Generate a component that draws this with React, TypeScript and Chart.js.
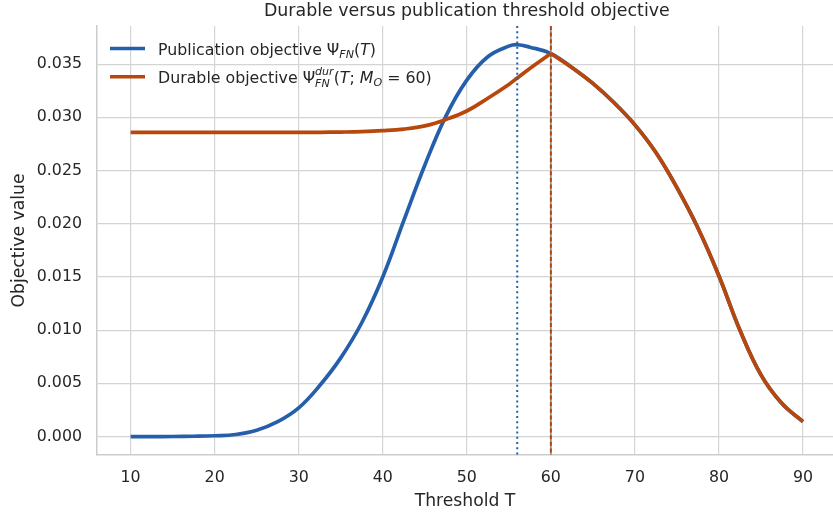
import React, { useEffect, useRef } from "react";
import { Chart, registerables } from "chart.js";

Chart.register(...registerables);

// ---- data ----
const thresholds = [
  10, 12.5, 15, 17.5, 20, 22.5, 25, 27.5, 30, 32.5, 35, 37.5, 40, 42.5, 45, 47.5, 50, 52.5, 55, 56, 57.5, 60,
  62.5, 65, 67.5, 70, 72.5, 75, 77.5, 80, 82.5, 85, 87.5, 90,
];
const publicationObjective = [
  0.0, 0.0, 0.00001, 0.00003, 0.00008, 0.0002, 0.0006, 0.0014, 0.0027, 0.0048, 0.0074, 0.0107, 0.015, 0.0203,
  0.0255, 0.0301, 0.0335, 0.0357, 0.0367, 0.03683, 0.0366, 0.036, 0.0347, 0.0332, 0.0314, 0.0293, 0.0267, 0.0234,
  0.0196, 0.0151, 0.01, 0.0058, 0.0031, 0.0014,
];
const durableObjective = [
  0.0286, 0.0286, 0.0286, 0.0286, 0.0286, 0.0286, 0.0286, 0.0286, 0.0286, 0.0286, 0.02862, 0.02866, 0.02875,
  0.0289, 0.0292, 0.0298, 0.0306, 0.0318, 0.0331, 0.0337, 0.0346, 0.036, 0.0347, 0.0332, 0.0314, 0.0293, 0.0267,
  0.0234, 0.0196, 0.0151, 0.01, 0.0058, 0.0031, 0.0014,
];
const publicationOptimum = 56;
const durableOptimum = 60; // M_O
const xTicks = [10, 20, 30, 40, 50, 60, 70, 80, 90];
const yTicks = [0, 0.005, 0.01, 0.015, 0.02, 0.025, 0.03, 0.035];
const titleText = "Durable versus publication threshold objective";
const xTitle = "Threshold T";
const yTitle = "Objective value";

// ---- styles ----
const BLUE = "#255fab";
const ORANGE = "#b8470b";
const TEXT = "#262626";
const GRID = "#d4d4d4";
const FONT = "'DejaVu Sans', 'Liberation Sans', sans-serif";

type Seg = { t: string; it?: boolean; sub?: boolean; sup?: string };

const legendRows: { color: string; segs: Seg[] }[] = [
  {
    color: BLUE,
    segs: [{ t: "Publication objective Ψ" }, { t: "FN", it: true, sub: true }, { t: "(" }, { t: "T", it: true }, { t: ")" }],
  },
  {
    color: ORANGE,
    segs: [
      { t: "Durable objective Ψ" },
      { t: "FN", it: true, sub: true, sup: "dur" },
      { t: "(" },
      { t: "T", it: true },
      { t: "; " },
      { t: "M", it: true },
      { t: "O", it: true, sub: true },
      { t: " = " + String(durableOptimum) + ")" },
    ],
  },
];

function fontStr(size: number, italic?: boolean) {
  return `${italic ? "oblique " : ""}${size}px ${FONT}`;
}

function drawRich(ctx: CanvasRenderingContext2D, x: number, y: number, segs: Seg[], size: number) {
  ctx.textAlign = "left";
  ctx.textBaseline = "alphabetic";
  let cx = x;
  for (const s of segs) {
    if (s.sub || s.sup) {
      const small = size * 0.7;
      ctx.font = fontStr(small, s.it);
      let w = ctx.measureText(s.t).width;
      if (s.sup) {
        const wSup = ctx.measureText(s.sup).width;
        ctx.fillText(s.sup, cx, y - size * 0.52);
        ctx.fillText(s.t, cx, y + size * 0.28);
        w = Math.max(w, wSup);
      } else {
        ctx.fillText(s.t, cx, y + size * 0.2);
      }
      cx += w;
    } else {
      ctx.font = fontStr(size, s.it);
      ctx.fillText(s.t, cx, y);
      cx += ctx.measureText(s.t).width;
    }
  }
}

const decorPlugin = {
  id: "decor",
  afterDatasetsDraw(chart: any) {
    const { ctx, chartArea } = chart;
    const xs = chart.scales.x;
    ctx.save();
    // publication optimum (dotted blue)
    const xp = xs.getPixelForValue(publicationOptimum);
    ctx.strokeStyle = BLUE;
    ctx.lineWidth = 2;
    ctx.setLineDash([2, 3.2]);
    ctx.beginPath();
    ctx.moveTo(xp, chartArea.top);
    ctx.lineTo(xp, chartArea.bottom);
    ctx.stroke();
    // durable optimum (dashed orange)
    const xd = xs.getPixelForValue(durableOptimum);
    ctx.setLineDash([]);
    ctx.strokeStyle = "#8c8c8c";
    ctx.lineWidth = 1.6;
    ctx.beginPath();
    ctx.moveTo(xd, chartArea.top);
    ctx.lineTo(xd, chartArea.bottom);
    ctx.stroke();
    ctx.strokeStyle = ORANGE;
    ctx.lineWidth = 2;
    ctx.setLineDash([4, 2.6]);
    ctx.beginPath();
    ctx.moveTo(xd, chartArea.top);
    ctx.lineTo(xd, chartArea.bottom);
    ctx.stroke();
    ctx.restore();
  },
  afterDraw(chart: any) {
    const { ctx, chartArea } = chart;
    ctx.save();
    // title, centred over the axes
    ctx.fillStyle = TEXT;
    ctx.font = fontStr(17.4);
    ctx.textAlign = "center";
    ctx.textBaseline = "alphabetic";
    const cx = (chartArea.left + chart.scales.x.getPixelForValue(94)) / 2;
    ctx.fillText(titleText, cx, 16);
    // legend
    legendRows.forEach((row, i) => {
      const y = 48.5 + i * 28.3;
      ctx.strokeStyle = row.color;
      ctx.lineWidth = 3.6;
      ctx.setLineDash([]);
      ctx.lineCap = "butt";
      ctx.beginPath();
      ctx.moveTo(110, y);
      ctx.lineTo(145, y);
      ctx.stroke();
      ctx.fillStyle = TEXT;
      drawRich(ctx, 158, y + 6, row.segs, 15.8);
    });
    ctx.restore();
  },
};

export default function App() {
  const ref = useRef<HTMLCanvasElement | null>(null);
  useEffect(() => {
    if (!ref.current) return;
    const idx60 = thresholds.indexOf(durableOptimum);
    const pubPts = thresholds.map((x, i) => ({ x, y: publicationObjective[i] }));
    const durPts = thresholds.map((x, i) => ({ x, y: durableObjective[i] }));
    const common = { borderWidth: 3.7, pointRadius: 0, tension: 0.4, cubicInterpolationMode: "default" };
    const chart = new Chart(ref.current, {
      type: "line",
      data: {
        datasets: [
          { ...common, label: "Durable objective", data: durPts.slice(0, idx60 + 1), borderColor: ORANGE, order: 1 },
          { ...common, label: "Durable objective (T ≥ M_O)", data: durPts.slice(idx60), borderColor: ORANGE, order: 1 },
          { ...common, label: "Publication objective", data: pubPts, borderColor: BLUE, order: 3 },
        ],
      },
      options: {
        animation: false,
        responsive: false,
        maintainAspectRatio: false,
        devicePixelRatio: 1,
        layout: { padding: { top: 26, left: 0, right: 0, bottom: 0 } },
        plugins: {
          legend: { display: false },
          title: { display: false },
          tooltip: { enabled: false },
        },
        scales: {
          x: {
            type: "linear",
            min: 6,
            max: 93.57,
            afterBuildTicks: (s: any) => {
              s.ticks = xTicks.map((v) => ({ value: v }));
            },
            afterFit: (s: any) => {
              s.height = 62;
            },
            grid: { color: GRID, lineWidth: 1.2, drawTicks: false },
            border: { display: true, color: "#cccccc", width: 1.5 },
            ticks: {
              padding: 13,
              autoSkip: false,
              maxRotation: 0,
              color: TEXT,
              font: { family: FONT, size: 15.8 },
              callback: (v: any) => String(v),
            },
            title: {
              display: true,
              text: xTitle,
              color: TEXT,
              font: { family: FONT, size: 17.2 },
              padding: { top: 0, bottom: 5 },
            },
          },
          y: {
            type: "linear",
            min: -0.00173,
            max: 0.03859,
            afterBuildTicks: (s: any) => {
              s.ticks = yTicks.map((v) => ({ value: v }));
            },
            afterFit: (s: any) => {
              s.width = 97;
            },
            grid: { color: GRID, lineWidth: 1.2, drawTicks: false },
            border: { display: true, color: "#cccccc", width: 1.5 },
            ticks: {
              padding: 15,
              color: TEXT,
              font: { family: FONT, size: 15.8 },
              callback: (v: any) => Number(v).toFixed(3),
            },
            title: {
              display: true,
              text: yTitle,
              color: TEXT,
              font: { family: FONT, size: 17.2 },
              padding: { top: 9, bottom: 0 },
            },
          },
        },
      },
      plugins: [decorPlugin],
    } as any);
    return () => chart.destroy();
  }, []);
  return (
    <div style={{ position: "fixed", left: 0, top: 0, width: 833, height: 517, background: "#fff" }}>
      <canvas ref={ref} width={833} height={517} style={{ display: "block", width: 833, height: 517 }} />
    </div>
  );
}
